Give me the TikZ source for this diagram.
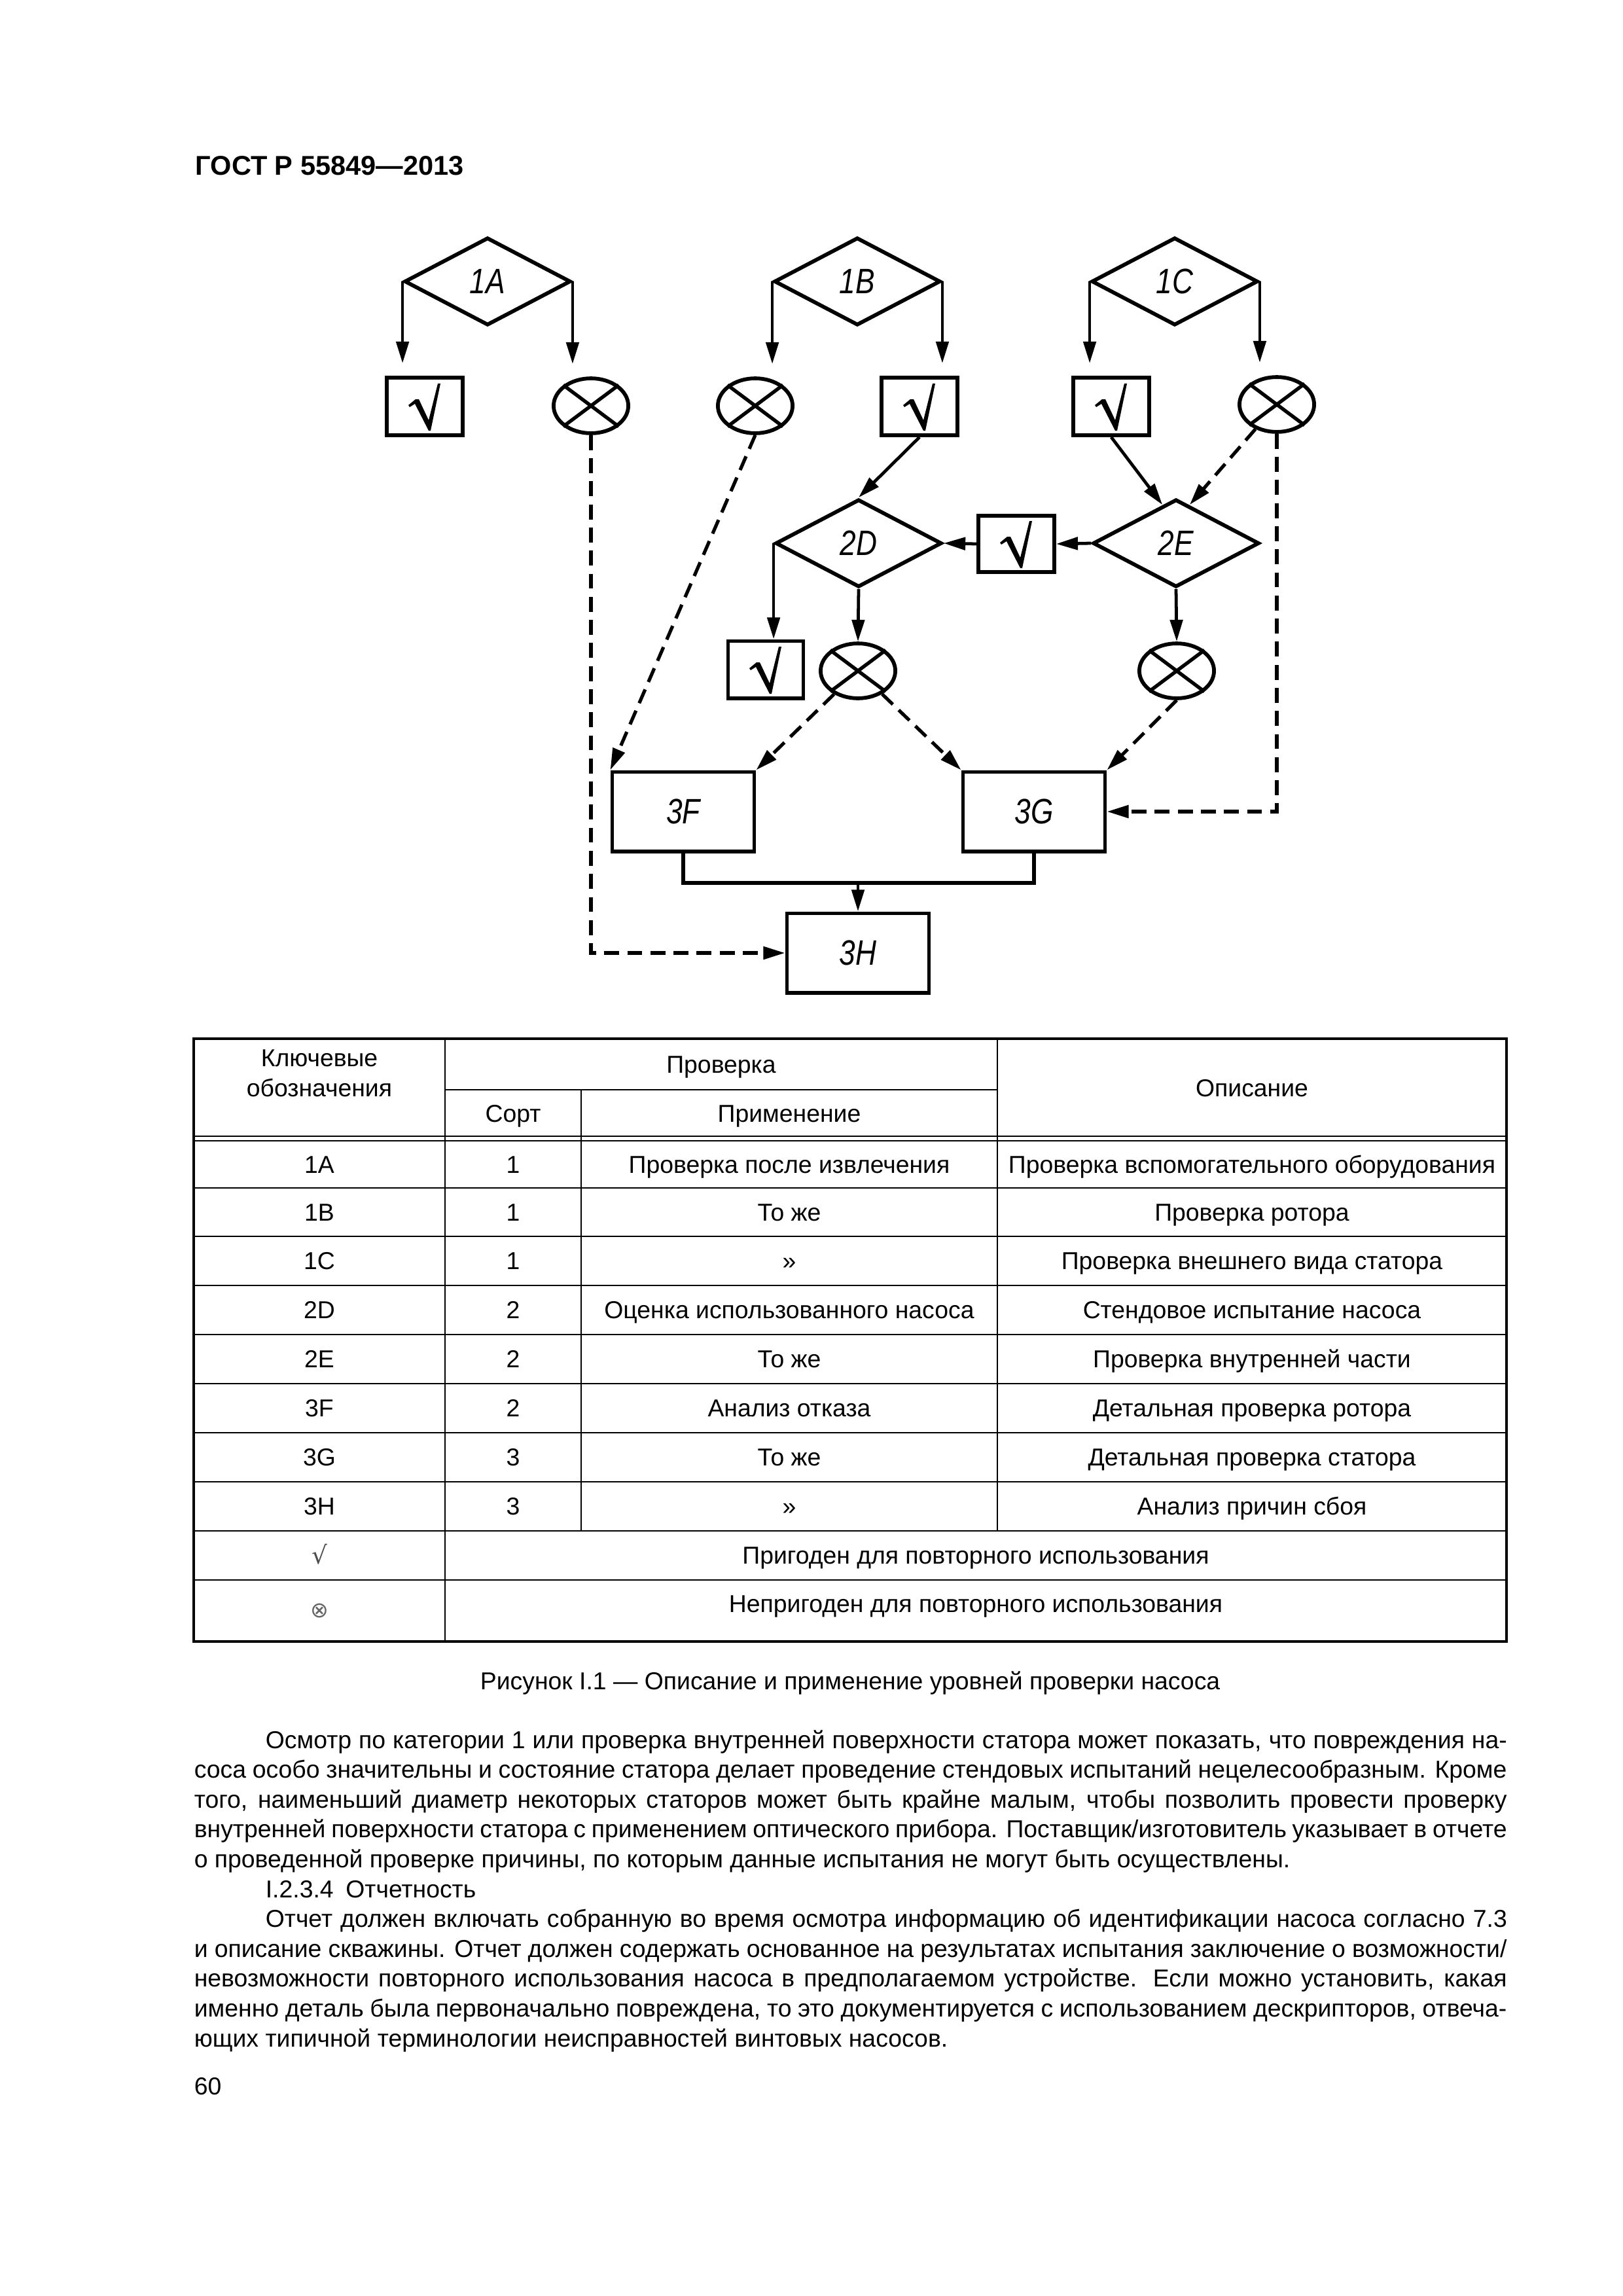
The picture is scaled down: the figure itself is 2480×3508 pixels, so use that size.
\documentclass[tikz,border=0pt]{standalone}
\usepackage{fontspec}
\setmainfont{Liberation Sans}
\newfontfamily\djv{DejaVu Sans}
\usetikzlibrary{arrows.meta,shapes.geometric,calc}
\newcommand\jl[2]{\makebox[#1][s]{#2}}
\newcommand\lbl[1]{\scalebox{0.82}[1]{#1}}
\newcommand\chk[1]{\fill[shift={(#1.center)}] (-25,-2) -- (-14,-11) -- (-9,-11) -- (6,21) -- (20,-35) -- (24,-35) -- (9,37) -- (6,37) -- (-15,-4) -- (-23,1) -- cycle;}
\newcommand\xcross[1]{\draw[line width=1.3pt] (#1.north east) -- (#1.south west) (#1.north west) -- (#1.south east);}
\begin{document}
\begin{tikzpicture}[x=0.2409pt,y=-0.2409pt,
  shp/.style={draw, line width=1.4pt, inner sep=0pt},
  dia/.style={shp, diamond, minimum width=61.2pt, minimum height=32.3pt, font=\fontsize{13}{15}\selectfont\itshape},
  okbox/.style={shp, rectangle, minimum width=27.9pt, minimum height=21.2pt},
  xell/.style={shp, ellipse, minimum width=27.5pt, minimum height=20.2pt},
  lvl/.style={shp, rectangle, minimum width=52.3pt, minimum height=29.2pt, font=\fontsize{13}{15}\selectfont\itshape},
  arr/.style={line width=1.15pt, -{Triangle[length=8pt,width=4.6pt]}},
  darr/.style={arr, line width=1.25pt, dash pattern=on 5.5pt off 3pt},
  tl/.style={line width=0.6pt},
  tt/.style={inner sep=0pt, font=\fontsize{9}{11}\selectfont, text height=1.5ex, text depth=.3ex},
  bt/.style={inner sep=0pt, anchor=base west, font=\fontsize{9}{11}\selectfont}
]
\fill[white] (0,0) rectangle (2480,3508);
\useasboundingbox (0,0) rectangle (2480,3508);

% header
\node[inner sep=0pt, anchor=base west, font=\fontsize{10}{12}\selectfont\bfseries] (hdr) at (298,267) {ГОСТ Р 55849—2013};

% level 1
\node[dia] (d1A) at (745,430) {\lbl{1A}};
\node[dia] (d1B) at (1310,430) {\lbl{1B}};
\node[dia] (d1C) at (1795,430) {\lbl{1C}};

\node[okbox] (ok1A) at (649,621) {};
\node[xell] (x1A) at (903,620) {};
\node[xell] (x1B) at (1154,620) {};
\node[okbox] (ok1B) at (1405,621) {};
\node[okbox] (ok1C) at (1698,621) {};
\node[xell] (x1C) at (1951,618) {};
\chk{ok1A}\chk{ok1B}\chk{ok1C}
\xcross{x1A}\xcross{x1B}\xcross{x1C}

\draw[arr, shorten >=4.6pt] (d1A.west) -- (d1A.west |- ok1A.north);
\draw[arr, shorten >=4.6pt] (d1A.east) -- (d1A.east |- x1A.north);
\draw[arr, shorten >=4.6pt] (d1B.west) -- (d1B.west |- x1B.north);
\draw[arr, shorten >=4.6pt] (d1B.east) -- (d1B.east |- ok1B.north);
\draw[arr, shorten >=4.6pt] (d1C.west) -- (d1C.west |- ok1C.north);
\draw[arr, shorten >=4.6pt] (d1C.east) -- (d1C.east |- x1C.north);

% level 2
\node[dia] (d2D) at (1312,830) {\lbl{2D}};
\node[okbox, minimum height=20.7pt] (ok2) at (1553,831) {};
\node[dia] (d2E) at (1797,830) {\lbl{2E}};
\chk{ok2}
\coordinate (e2l) at ($(d2E.north)!0.16!(d2E.west)$);
\coordinate (e2r) at ($(d2E.north)!0.16!(d2E.east)$);
\draw[arr] (ok1B.south) -- (d2D.north);
\draw[arr] (ok1C.south) -- (e2l);
\draw[darr] (x1C) -- (e2r);
\draw[arr] (ok2.west) -- (d2D.east);
\draw[arr] (d2E.west) -- (ok2.east);

% level 2 outcomes
\node[okbox, minimum width=27.7pt, minimum height=21pt] (ok3) at (1170,1023) {};
\node[xell] (x2D) at (1311,1025) {};
\node[xell] (x2E) at (1798,1025) {};
\chk{ok3}
\xcross{x2D}\xcross{x2E}
\draw[arr] (d2D.west) -- (d2D.west |- ok3.north);
\draw[arr] (d2D.south) -- (x2D.north);
\draw[arr] (d2E.south) -- (x2E.north);

% level 3
\node[lvl] (f3F) at (1044,1240) {\lbl{3F}};
\node[lvl] (g3G) at (1580,1240) {\lbl{3G}};
\node[lvl] (h3H) at (1311,1456) {\lbl{3H}};
\coordinate (junc) at (1311,1349);
\draw[line width=1.3pt] (f3F.south) |- (junc) -| (g3G.south);
\draw[arr] (junc) -- (h3H.north);

\draw[darr] (x1A.south) |- (h3H.west);
\draw[darr] (x1C.south) |- (g3G.east);
\draw[darr] (x1B.south) -- (f3F.north west);
\draw[darr] (x2D) -- (f3F.north east);
\draw[darr] (x2D) -- (g3G.north west);
\draw[darr] (x2E.south) -- (g3G.north east);

% table
\draw[line width=0.8pt] (296,1587) rectangle (2302,2508);
\draw[tl] (680,1665) -- (1524,1665);
\draw[tl] (296,1736) -- (2302,1736) (296,1743) -- (2302,1743);
\foreach \yy in {1815,1889,1964,2039,2114,2189,2264,2339,2414} \draw[tl] (296,\yy) -- (2302,\yy);
\draw[tl] (680,1587) -- (680,2508);
\draw[tl] (888,1665) -- (888,2339);
\draw[tl] (1524,1587) -- (1524,2339);

\node[tt, align=center] (hk) at (488,1662) {Ключевые\\обозначения};
\node[tt] (hp) at (1102,1626) {Проверка};
\node[tt] (hs) at (784,1701) {Сорт};
\node[tt] (ha) at (1206,1701) {Применение};
\node[tt] (ho) at (1913,1662) {Описание};

\foreach \yy/\ca/\cb/\cc/\cd in {
  1779/1A/1/Проверка после извлечения/Проверка вспомогательного оборудования,
  1852/1B/1/То же/Проверка ротора,
  1926/1C/1/»/Проверка внешнего вида статора,
  2001/2D/2/Оценка использованного насоса/Стендовое испытание насоса,
  2076/2E/2/То же/Проверка внутренней части,
  2151/3F/2/Анализ отказа/Детальная проверка ротора,
  2226/3G/3/То же/Детальная проверка статора,
  2301/3H/3/»/Анализ причин сбоя}{
  \node[tt] (ra\yy) at (488,\yy) {\ca};
  \node[tt] (rb\yy) at (784,\yy) {\cb};
  \node[tt] (rc\yy) at (1206,\yy) {\cc};
  \node[tt] (rd\yy) at (1913,\yy) {\cd};
}
\node[tt, font=\fontsize{9}{11}\djv\color{black!70}] (sok) at (488,2376) {√};
\node[tt] (tok) at (1491,2376) {Пригоден для повторного использования};
\node[tt, font=\fontsize{8}{10}\djv\color{black!60}] (sno) at (488,2458) {⊗};
\node[tt] (tno) at (1491,2450) {Непригоден для повторного использования};

% caption
\node[tt] (cap) at (1299,2568) {Рисунок I.1 — Описание и применение уровней проверки насоса};

% body text
\node[bt] (l1) at (405,2671) {\jl{457.0pt}{Осмотр по категории 1 или проверка внутренней поверхности статора может показать, что повреждения на-}};
\node[bt] (l2) at (296,2716.6) {\jl{483.2pt}{соса особо значительны и состояние статора делает проведение стендовых испытаний нецелесообразным. Кроме}};
\node[bt] (l3) at (296,2762.2) {\jl{483.2pt}{того, наименьший диаметр некоторых статоров может быть крайне малым, чтобы позволить провести проверку}};
\node[bt] (l4) at (296,2807.8) {\jl{483.2pt}{внутренней поверхности статора с применением оптического прибора. Поставщик/изготовитель указывает в отчете}};
\node[bt] (l5) at (296,2853.4) {о проведенной проверке причины, по которым данные испытания не могут быть осуществлены.};
\node[bt] (l6) at (405,2899) {I.2.3.4\hspace{0.5em}Отчетность};
\node[bt] (l7) at (405,2944.6) {\jl{457.0pt}{Отчет должен включать собранную во время осмотра информацию об идентификации насоса согласно 7.3}};
\node[bt] (l8) at (296,2990.2) {\jl{483.2pt}{и описание скважины. Отчет должен содержать основанное на результатах испытания заключение о возможности/}};
\node[bt] (l9) at (296,3035.8) {\jl{483.2pt}{невозможности повторного использования насоса в предполагаемом устройстве. Если можно установить, какая}};
\node[bt] (l10) at (296,3081.4) {\jl{483.2pt}{именно деталь была первоначально повреждена, то это документируется с использованием дескрипторов, отвеча-}};
\node[bt] (l11) at (296,3127) {ющих типичной терминологии неисправностей винтовых насосов.};

\node[bt] (pg) at (296,3200) {60};
\end{tikzpicture}
\end{document}
